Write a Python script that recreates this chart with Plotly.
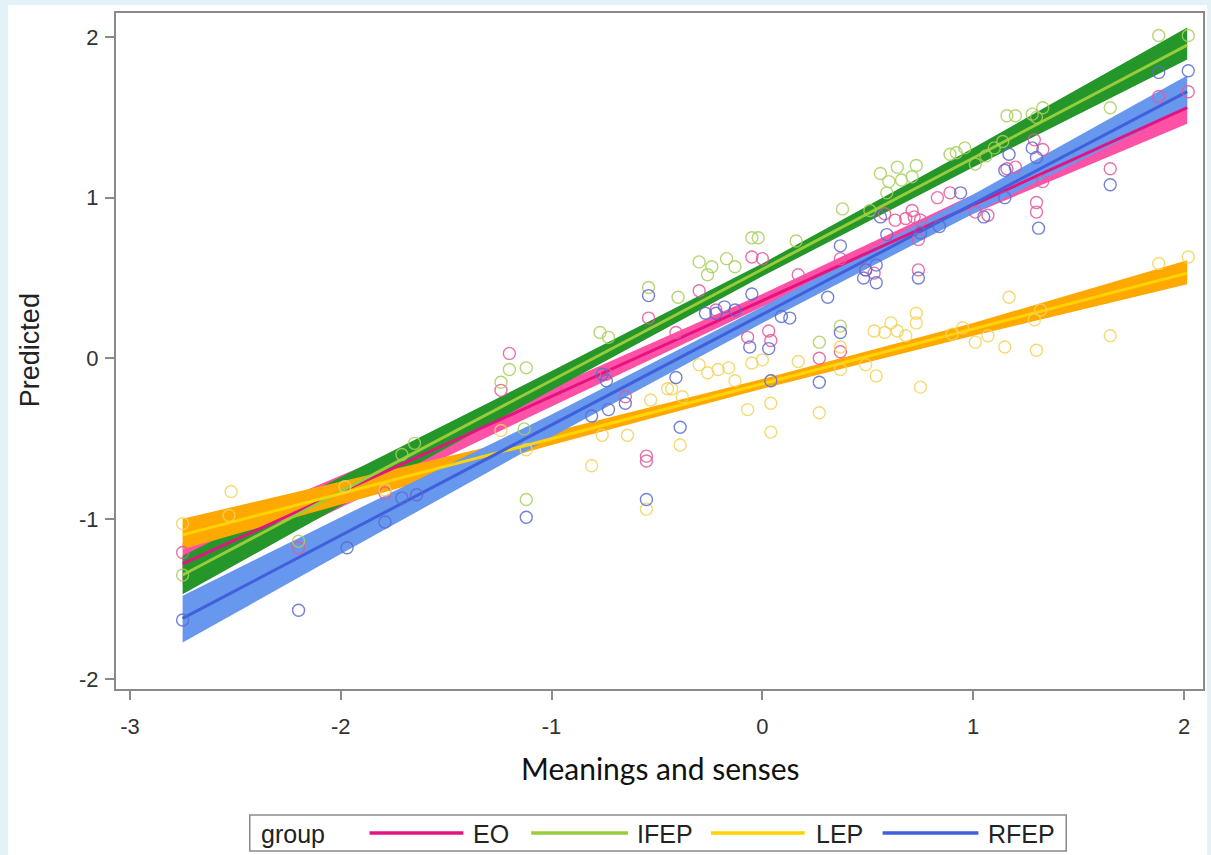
import plotly.graph_objects as go

# ---------------- data ----------------
GROUPS = ["EO", "IFEP", "LEP", "RFEP"]

EO_X = [-2.75, -2.20, -1.79, -1.24, -1.20, -0.74, -0.65, -0.55, -0.55, -0.54, -0.41, -0.30, -0.22,
        -0.05, 0.00, 0.03, 0.04, -0.07, 0.17, 0.27, 0.37, 0.37, 0.53, 0.58, 0.63, 0.68, 0.71, 0.72,
        0.75, 0.74, 0.74, 0.89, 0.83, 1.01, 1.07, 1.16, 1.20, 1.29, 1.33, 1.33, 1.30, 1.30, 1.65,
        1.88, 2.02, 0.49]
EO_Y = [-1.21, -1.18, -0.84, -0.20, 0.03, -0.10, -0.24, -0.61, -0.64, 0.25, 0.16, 0.42, 0.30,
        0.63, 0.62, 0.17, 0.11, 0.13, 0.52, 0.00, 0.62, 0.04, 0.53, 0.90, 0.86, 0.87, 0.92, 0.88,
        0.86, 0.74, 0.55, 1.03, 1.00, 0.91, 0.89, 1.18, 1.19, 1.36, 1.30, 1.10, 0.97, 0.91, 1.18,
        1.63, 1.66, 0.55]

IFEP_X = [-2.75, -2.20, -1.71, -1.65, -1.24, -1.20, -1.12, -1.12, -0.77, -0.73, -0.54, -0.40,
          -0.30, -0.26, -0.24, -0.17, -0.13, -0.05, -0.02, 0.16, 0.27, 0.37, 0.38, 0.51, 0.56,
          0.59, 0.60, 0.64, 0.66, 0.71, 0.73, 0.89, 0.92, 0.96, 1.01, 1.06, 1.10, 1.14, 1.16,
          1.20, 1.28, 1.30, 1.33, 1.65, 1.88, 2.02, -1.13]
IFEP_Y = [-1.35, -1.14, -0.60, -0.53, -0.15, -0.07, -0.06, -0.88, 0.16, 0.13, 0.44, 0.38,
          0.60, 0.52, 0.57, 0.62, 0.57, 0.75, 0.75, 0.73, 0.10, 0.20, 0.93, 0.92, 1.15,
          1.03, 1.10, 1.19, 1.11, 1.13, 1.20, 1.27, 1.28, 1.31, 1.21, 1.26, 1.31, 1.35, 1.51,
          1.51, 1.52, 1.50, 1.56, 1.56, 2.01, 2.01, -0.44]

LEP_X = [-2.75, -2.52, -2.53, -1.98, -1.79, -1.24, -1.12, -0.81, -0.76, -0.64, -0.55, -0.53,
         -0.45, -0.43, -0.38, -0.39, -0.30, -0.26, -0.21, -0.16, -0.13, -0.07, -0.05, 0.00,
         0.04, 0.04, 0.04, 0.17, 0.27, 0.37, 0.37, 0.49, 0.53, 0.54, 0.58, 0.61, 0.64, 0.68,
         0.73, 0.73, 0.75, 0.90, 0.95, 1.01, 1.07, 1.15, 1.17, 1.29, 1.30, 1.32, 1.65, 1.88, 2.02]
LEP_Y = [-1.03, -0.83, -0.98, -0.80, -0.82, -0.45, -0.57, -0.67, -0.48, -0.48, -0.94, -0.26,
         -0.19, -0.19, -0.24, -0.54, -0.04, -0.09, -0.07, -0.06, -0.14, -0.32, -0.03, -0.01,
         -0.28, -0.46, -0.14, -0.02, -0.34, 0.07, -0.07, -0.04, 0.17, -0.11, 0.16, 0.22, 0.17, 0.14,
         0.28, 0.22, -0.18, 0.15, 0.19, 0.10, 0.14, 0.07, 0.38, 0.24, 0.05, 0.30, 0.14, 0.59, 0.63]

RFEP_X = [-2.75, -2.20, -1.97, -1.79, -1.71, -1.64, -1.12, -0.81, -0.74, -0.76, -0.65, -0.73,
          -0.55, -0.54, -0.41, -0.39, -0.27, -0.22, -0.18, -0.13, -0.05, -0.06, 0.03, 0.04,
          0.09, 0.13, 0.27, 0.31, 0.37, 0.37, 0.48, 0.54, 0.49, 0.54, 0.56, 0.59, 0.74, 0.75,
          0.84, 0.94, 1.15, 1.15, 1.05, 1.17, 1.28, 1.30, 1.31, 1.65, 1.88, 2.02]
RFEP_Y = [-1.63, -1.57, -1.18, -1.02, -0.87, -0.85, -0.99, -0.36, -0.14, -0.10, -0.28, -0.32,
          -0.88, 0.39, -0.12, -0.43, 0.28, 0.28, 0.32, 0.30, 0.40, 0.07, 0.06, -0.14,
          0.26, 0.25, -0.15, 0.38, 0.70, 0.16, 0.50, 0.47, 0.55, 0.58, 0.88, 0.77, 0.50, 0.78,
          0.82, 1.03, 1.00, 1.17, 0.88, 1.27, 1.31, 1.25, 0.81, 1.08, 1.78, 1.79]

# fitted regression lines (end points)
FIT_X = [-2.75, 2.015]
EO_FIT = [-1.28, 1.56]
IFEP_FIT = [-1.35, 1.95]
LEP_FIT = [-1.10, 0.53]
RFEP_FIT = [-1.62, 1.66]

# 95% confidence bands
BAND_X = [-2.75, -2.0, -1.0, 0.0, 1.0, 2.015]
EO_LO = [-1.41, -0.93, -0.30, 0.32, 0.90, 1.46]
EO_HI = [-1.15, -0.73, -0.18, 0.40, 1.02, 1.66]
IFEP_LO = [-1.47, -0.92, -0.20, 0.51, 1.19, 1.86]
IFEP_HI = [-1.23, -0.74, -0.08, 0.59, 1.31, 2.06]
LEP_LO = [-1.19, -0.91, -0.54, -0.19, 0.14, 0.46]
LEP_HI = [-1.00, -0.77, -0.46, -0.13, 0.22, 0.61]
RFEP_LO = [-1.77, -1.22, -0.49, 0.22, 0.90, 1.56]
RFEP_HI = [-1.48, -0.99, -0.35, 0.32, 1.02, 1.76]

X_TICKS = [-3, -2, -1, 0, 1, 2]
X_TICKTEXT = ["-3", "-2", "-1", "0", "1", "2"]
Y_TICKS = [-2, -1, 0, 1, 2]
Y_TICKTEXT = ["-2", "-1", "0", "1", "2"]
X_TITLE = "Meanings and senses"
Y_TITLE = "Predicted"
LEGEND_TITLE = "group"

# ---------------- styles ----------------
LINE_COL = {"EO": "#E5137F", "IFEP": "#97CC3A", "LEP": "#FFD400", "RFEP": "#3F5FDB"}
BAND_COL = {"EO": "#FF52A6", "IFEP": "#24962A", "LEP": "#FFA800", "RFEP": "#6897EE"}
MARK_COL = {"EO": "#E4589B", "IFEP": "#A9CF5C", "LEP": "#F3D25A", "RFEP": "#5A6BD0"}

pts = {"EO": (EO_X, EO_Y), "IFEP": (IFEP_X, IFEP_Y), "LEP": (LEP_X, LEP_Y), "RFEP": (RFEP_X, RFEP_Y)}
fits = {"EO": EO_FIT, "IFEP": IFEP_FIT, "LEP": LEP_FIT, "RFEP": RFEP_FIT}
bands = {"EO": (EO_LO, EO_HI), "IFEP": (IFEP_LO, IFEP_HI), "LEP": (LEP_LO, LEP_HI),
         "RFEP": (RFEP_LO, RFEP_HI)}

fig = go.Figure()

for g in GROUPS:
    lo, hi = bands[g]
    fig.add_trace(go.Scatter(x=BAND_X + BAND_X[::-1], y=hi + lo[::-1], fill="toself",
                             fillcolor=BAND_COL[g], line=dict(width=0), mode="lines",
                             showlegend=False, hoverinfo="skip"))
for g in GROUPS:
    fig.add_trace(go.Scatter(x=FIT_X, y=fits[g], mode="lines",
                             line=dict(color=LINE_COL[g], width=3), showlegend=False))
for g in GROUPS:
    x, y = pts[g]
    fig.add_trace(go.Scatter(x=x, y=y, mode="markers", showlegend=False,
                             marker=dict(symbol="circle-open", size=12, opacity=0.85,
                                         color=MARK_COL[g], line=dict(width=1.4, color=MARK_COL[g]))))

W, H = 1211, 855
L, R, T, B = 116, 1205, 13, 689


def px(xp):
    return (xp - L) / (R - L)


def py(yp):
    return (B - yp) / (B - T)


shapes = []
annotations = []
# page background (light blue edge with white sheet)
shapes.append(dict(type="rect", xref="paper", yref="paper", x0=px(8), x1=px(1209), y0=py(856),
                   y1=py(5), fillcolor="white", line=dict(width=0), layer="below"))

# custom legend
shapes.append(dict(type="rect", xref="paper", yref="paper", x0=px(250), x1=px(1068), y0=py(851),
                   y1=py(815), fillcolor="white", line=dict(color="#8A8A8A", width=1.5)))
LEG_FONT = dict(family="Liberation Sans, Arial", size=25, color="#222")
annotations.append(dict(text=LEGEND_TITLE, xref="paper", yref="paper", x=px(259), y=py(834),
                        xanchor="left", yanchor="middle", showarrow=False, font=LEG_FONT))
leg_pos = {"EO": (370, 464, 472), "IFEP": (532, 629, 636), "LEP": (712, 806, 815),
           "RFEP": (884, 980, 988)}
for g in GROUPS:
    a, b, t = leg_pos[g]
    shapes.append(dict(type="line", xref="paper", yref="paper", x0=px(a), x1=px(b), y0=py(833),
                       y1=py(833), line=dict(color=LINE_COL[g], width=3.5)))
    annotations.append(dict(text=g, xref="paper", yref="paper", x=px(t), y=py(834),
                            xanchor="left", yanchor="middle", showarrow=False, font=LEG_FONT))

annotations.append(dict(text=X_TITLE, xref="paper", yref="paper", x=px(662), y=py(768),
                        xanchor="center", yanchor="middle", showarrow=False,
                        font=dict(family="Lato, Open Sans", size=30, color="#111")))
annotations.append(dict(text=Y_TITLE, xref="paper", yref="paper", x=px(30), y=py(350),
                        xanchor="center", yanchor="middle", showarrow=False, textangle=-90,
                        font=dict(family="Liberation Sans, Arial", size=27, color="#222")))

fig.update_layout(
    width=W, height=H, margin=dict(l=L, r=W - R, t=T, b=H - B),
    paper_bgcolor="#E3F1F8", plot_bgcolor="white",
    shapes=shapes, annotations=annotations, showlegend=False,
    font=dict(family="Liberation Sans, Arial", size=22, color="#333"),
)
axis_common = dict(showgrid=False, zeroline=False, showline=True, mirror=True, linecolor="#8A8A8A",
                   linewidth=2, ticks="outside", ticklen=9, tickwidth=1.5, tickcolor="#8A8A8A",
                   tickfont=dict(size=22, color="#333"))
fig.update_xaxes(range=[-3.066, 2.09], tickvals=X_TICKS, ticktext=X_TICKTEXT,
                 ticklabelstandoff=8, **axis_common)
fig.update_yaxes(range=[-2.06, 2.15], tickvals=Y_TICKS, ticktext=Y_TICKTEXT,
                 ticklabelstandoff=2, **axis_common)

fig.write_html("out.html")
